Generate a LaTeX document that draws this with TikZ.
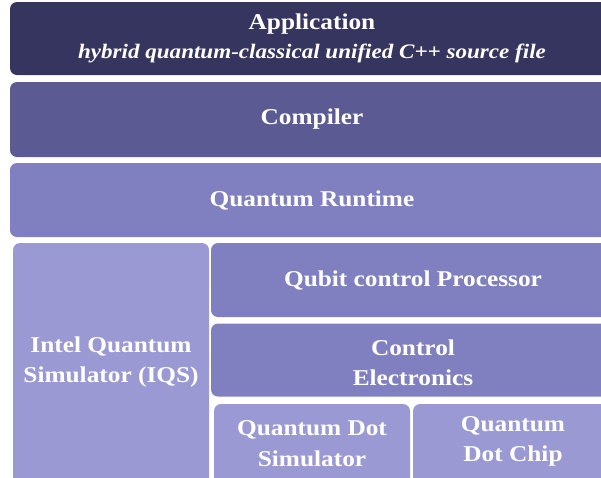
\documentclass[tikz,border=0pt]{standalone}
\usepackage{fontspec}
\setmainfont{Liberation Serif}[FakeStretch=1.12]
\definecolor{cApp}{HTML}{363560}
\definecolor{cComp}{HTML}{5B5A92}
\definecolor{cMid}{HTML}{807FBF}
\definecolor{cLight}{HTML}{9A99D4}
\tikzset{
  layer/.style={rounded corners=7pt, inner sep=0pt},
  lbl/.style={text=white, align=center, inner sep=0pt,
    font=\fontsize{22.6}{30.5}\selectfont\bfseries},
}
\begin{document}
\begin{tikzpicture}[x=1pt,y=-1pt]
\useasboundingbox (0,0) rectangle (601,477);
\clip (0,0) rectangle (601,477);
\node[layer, lbl, fill=cApp, minimum width=604pt, minimum height=73pt] (app) at (312,38.5)
  {Application\\[-1pt]{\fontsize{20.6}{24}\selectfont\bfseries\itshape hybrid quantum-classical unified C++ source file}};
\node[layer, lbl, fill=cComp, minimum width=604pt, minimum height=75pt] (comp) at (312,119.5) {Compiler};
\node[layer, lbl, fill=cMid, minimum width=604pt, minimum height=74pt] (rt) at (312,200) {Quantum Runtime};
\node[layer, fill=cLight, minimum width=196pt, minimum height=250pt] (iqsbox) at (111,368) {};
\node[lbl] (iqs) at (111,362) {Intel Quantum\\Simulator (IQS)};
\node[layer, lbl, fill=cMid, minimum width=404pt, minimum height=74pt] (qcp) at (413,280) {Qubit control Processor};
\node[layer, fill=cMid, minimum width=404pt, minimum height=73pt] (cebox) at (413,360) {};
\node[lbl] (ce) at (413,363) {Control\\Electronics};
\node[layer, fill=cLight, minimum width=196pt, minimum height=90pt] (qdsbox) at (312,449) {};
\node[lbl] (qds) at (312,443.5) {Quantum Dot\\Simulator};
\node[layer, fill=cLight, minimum width=200pt, minimum height=90pt] (chipbox) at (513,449) {};
\node[lbl] (chip) at (513,441.5) {Quantum\\Dot Chip};
\end{tikzpicture}
\end{document}
